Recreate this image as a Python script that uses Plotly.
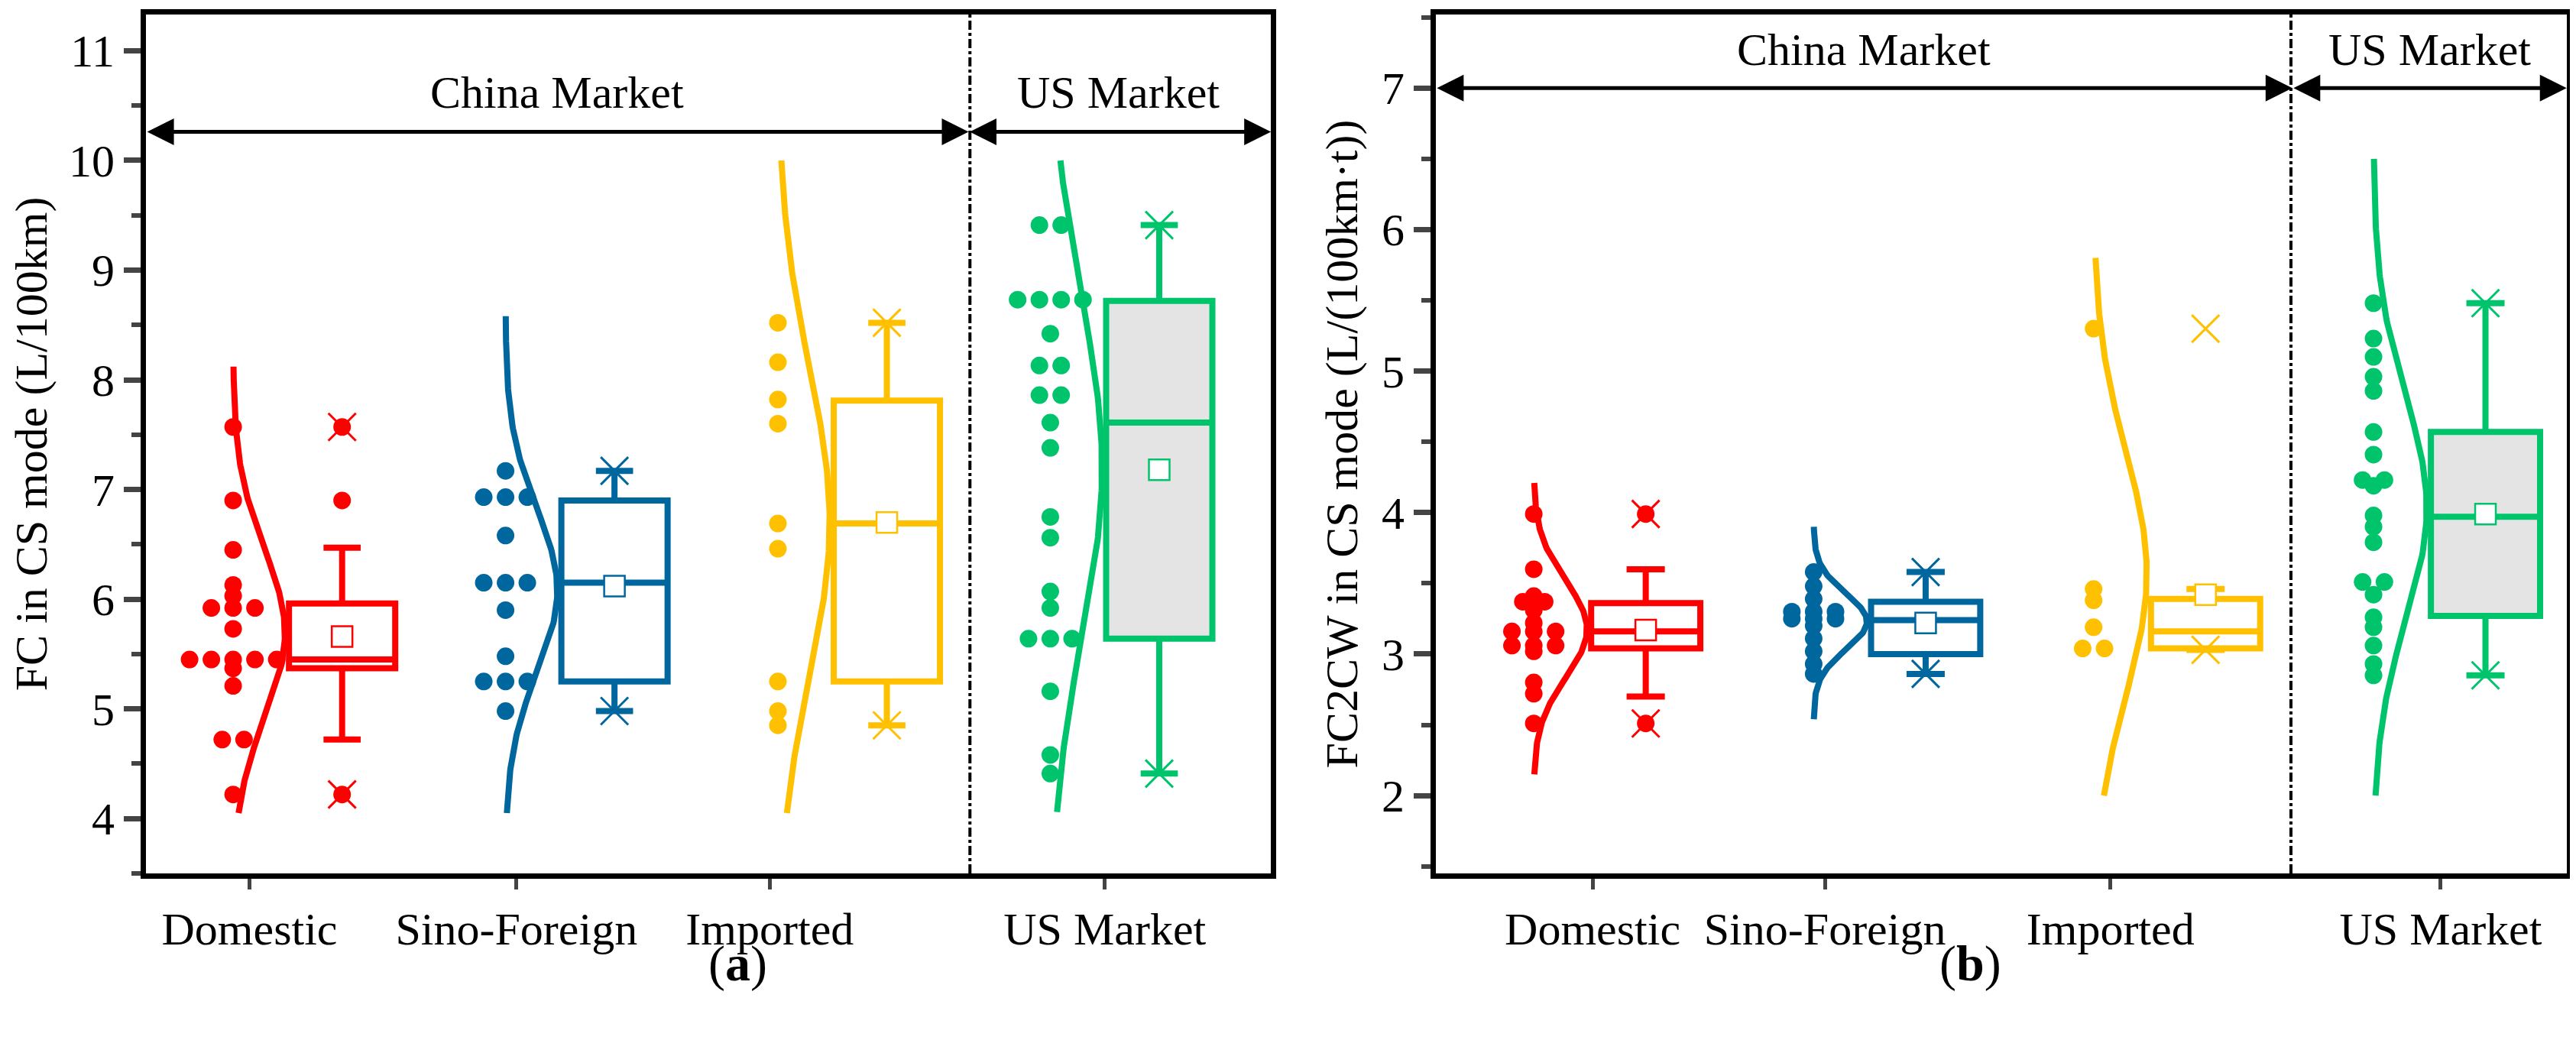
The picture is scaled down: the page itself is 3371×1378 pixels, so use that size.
import numpy as np
import plotly.graph_objects as go

groups = ["Domestic", "Sino-Foreign", "Imported", "US Market"]
colors = ["#ff0000", "#00669e", "#ffc000", "#00c46c"]

# ---- panel (a): FC in CS mode (L/100km)
a_points = [
    [7.57, 6.9, 6.45, 6.13, 6.03, 5.92, 5.92, 5.92, 5.73, 5.45, 5.45, 5.45, 5.45, 5.45, 5.37, 5.21, 4.72, 4.72, 4.22],
    [7.17, 6.93, 6.93, 6.93, 6.58, 6.15, 6.15, 6.15, 5.9, 5.48, 5.25, 5.25, 5.25, 4.98],
    [8.52, 8.16, 7.82, 7.6, 6.69, 6.46, 5.25, 4.98, 4.85],
    [9.41, 9.41, 8.73, 8.73, 8.73, 8.73, 8.42, 8.13, 8.13, 7.86, 7.86, 7.61, 7.38, 6.75, 6.56, 6.07, 5.92, 5.64, 5.64, 5.64, 5.16, 4.58, 4.41],
]
a_q1 = [5.37, 5.25, 5.25, 5.64]
a_med = [5.45, 6.15, 6.69, 7.61]
a_q3 = [5.96, 6.90, 7.81, 8.72]
a_lo = [4.72, 4.98, 4.85, 4.41]
a_hi = [6.47, 7.17, 8.52, 9.41]
a_mean = [5.66, 6.12, 6.70, 7.18]
a_min = [4.22, 4.98, 4.85, 4.41]
a_max = [7.57, 7.17, 8.52, 9.41]
a_outliers = [[7.57, 6.9, 4.22], [], [], []]
a_curve_lo = [4.05, 4.05, 4.05, 4.06]
a_curve_hi = [8.12, 8.58, 10.0, 10.0]

# ---- panel (b): FC2CW in CS mode (L/(100km·t))
b_points = [
    [3.99, 3.60, 3.41, 3.37, 3.37, 3.31, 3.22, 3.16, 3.16, 3.16, 3.06, 3.06, 3.06, 3.02, 2.80, 2.72, 2.51],
    [3.58, 3.48, 3.39, 3.30, 3.30, 3.30, 3.25, 3.25, 3.25, 3.20, 3.11, 3.02, 2.93, 2.86],
    [5.30, 3.46, 3.38, 3.19, 3.04, 3.04],
    [5.48, 5.23, 5.10, 4.96, 4.86, 4.57, 4.41, 4.23, 4.23, 4.19, 3.98, 3.90, 3.79, 3.51, 3.51, 3.42, 3.26, 3.19, 3.06, 2.93, 2.85],
]
b_q1 = [3.04, 3.00, 3.04, 3.27]
b_med = [3.16, 3.24, 3.16, 3.97]
b_q3 = [3.36, 3.37, 3.39, 4.57]
b_lo = [2.70, 2.86, 3.03, 2.85]
b_hi = [3.60, 3.58, 3.46, 5.48]
b_mean = [3.17, 3.22, 3.42, 3.99]
b_min = [2.51, 2.86, 3.03, 2.85]
b_max = [3.99, 3.58, 5.30, 5.48]
b_outliers = [[3.99, 2.51], [], [], []]
b_curve_lo = [2.15, 2.54, 2.0, 2.0]
b_curve_hi = [4.21, 3.90, 5.80, 6.50]

FONT = "Liberation Serif"
FS = 60
fig = go.Figure()

def swarm(vals, spacing):
    vals = np.asarray(vals)
    offs = np.zeros(len(vals))
    for v in np.unique(vals):
        idx = np.where(vals == v)[0]
        n = len(idx)
        offs[idx] = (np.arange(n) - (n - 1) / 2) * spacing
    return offs

def panel(xa, ya, pts, q1, med, q3, lo, hi, mean, mn, mx, outl, clo, chi, box_off, spacing):
    for g in range(4):
        c = colors[g]
        v = np.asarray(pts[g])
        fig.add_trace(go.Scatter(x=g + swarm(v, spacing), y=v, mode="markers", xaxis=xa, yaxis=ya,
                                 marker=dict(color=c, size=23), showlegend=False))
        m, s = v.mean(), v.std(ddof=1)
        yy = np.linspace(clo[g], chi[g], 200)
        pdf = np.exp(-0.5 * ((yy - m) / s) ** 2)
        fig.add_trace(go.Scatter(x=g + 0.19 * pdf, y=yy, mode="lines", xaxis=xa, yaxis=ya,
                                 line=dict(color=c, width=8), showlegend=False))
        bx = g + box_off
        fig.add_trace(go.Box(x=[bx], q1=[q1[g]], median=[med[g]], q3=[q3[g]], lowerfence=[lo[g]],
                             upperfence=[hi[g]], width=0.39, whiskerwidth=0.35, xaxis=xa, yaxis=ya,
                             line=dict(color=c, width=8), boxpoints=False,
                             fillcolor="#e4e4e4" if g == 3 else "rgba(255,255,255,0)", showlegend=False))
        if outl[g]:
            fig.add_trace(go.Scatter(x=[bx] * len(outl[g]), y=outl[g], mode="markers", xaxis=xa, yaxis=ya,
                                     marker=dict(color=c, size=23), showlegend=False))
        fig.add_trace(go.Scatter(x=[bx, bx], y=[mn[g], mx[g]], mode="markers", xaxis=xa, yaxis=ya,
                                 marker=dict(symbol="x-thin", size=36, line=dict(color=c, width=3)),
                                 showlegend=False))
        fig.add_trace(go.Scatter(x=[bx], y=[mean[g]], mode="markers", xaxis=xa, yaxis=ya,
                                 marker=dict(symbol="square", size=27, color="white", line=dict(color=c, width=2.5)),
                                 showlegend=False))

panel("x", "y", a_points, a_q1, a_med, a_q3, a_lo, a_hi, a_mean, a_min, a_max, a_outliers,
      a_curve_lo, a_curve_hi, 0.40, 0.08)
panel("x2", "y2", b_points, b_q1, b_med, b_q3, b_lo, b_hi, b_mean, b_min, b_max, b_outliers,
      b_curve_lo, b_curve_hi, 0.40, 0.078)

axis_common = dict(showline=True, linecolor="black", linewidth=7, mirror=True, showgrid=False,
                   zeroline=False, tickfont=dict(family=FONT, size=FS, color="black"))
fig.update_layout(
    width=3371, height=1378, plot_bgcolor="white", paper_bgcolor="white",
    margin=dict(l=0, r=0, t=11, b=243),
    xaxis=dict(domain=[0.0543, 0.491], range=[-0.32, 3.81], tickvals=[0.06, 1.04, 1.97, 3.2],
               ticktext=groups, ticks="outside", ticklen=14, tickwidth=5, **axis_common),
    yaxis=dict(range=[3.5, 11.33], tickvals=list(range(4, 12)), ticks="outside", ticklen=22, tickwidth=7,
               minor=dict(dtick=0.5, ticks="outside", ticklen=12, tickwidth=6),
               title=dict(text="FC in CS mode (L/100km)", font=dict(family=FONT, size=FS, color="black"), standoff=14),
               **axis_common),
    xaxis2=dict(domain=[0.555, 0.994], range=[-0.35, 3.69], tickvals=[0.21, 1.04, 2.06, 3.24],
                ticktext=groups, ticks="outside", ticklen=14, tickwidth=5, anchor="y2", **axis_common),
    yaxis2=dict(range=[1.45, 7.52], tickvals=list(range(2, 8)), ticks="outside", ticklen=22, tickwidth=7,
                minor=dict(dtick=0.5, ticks="outside", ticklen=12, tickwidth=6), anchor="x2",
                title=dict(text="FC2CW in CS mode (L/(100km·t))", font=dict(family=FONT, size=FS, color="black"), standoff=14),
                **axis_common),
)

def arrow(xa, ya, x0, x1, y):
    fig.add_annotation(x=x1, y=y, ax=x0, ay=y, xref=xa, yref=ya, axref=xa, ayref=ya, text="",
                       showarrow=True, arrowhead=2, arrowside="end+start", arrowsize=1.4,
                       arrowwidth=5, arrowcolor="black")

arrow("x", "y", -0.32, 2.70, 10.26)
arrow("x", "y", 2.70, 3.81, 10.26)
arrow("x2", "y2", -0.35, 2.71, 7.0)
arrow("x2", "y2", 2.71, 3.69, 7.0)
for xa, ya, xc, xu, yt in [("x", "y", 1.19, 3.25, 10.62), ("x2", "y2", 1.18, 3.2, 7.27)]:
    fig.add_annotation(x=xc, y=yt, xref=xa, yref=ya, text="China Market", showarrow=False,
                       font=dict(family=FONT, size=FS, color="black"))
    fig.add_annotation(x=xu, y=yt, xref=xa, yref=ya, text="US Market", showarrow=False,
                       font=dict(family=FONT, size=FS, color="black"))
for xa in ["x", "x2"]:
    fig.add_shape(type="line", xref=xa, yref="paper", x0=2.705, x1=2.705, y0=0, y1=1,
                  line=dict(color="black", width=4, dash="dashdot"))
fig.add_annotation(x=0.272, y=-0.14, xref="paper", yref="paper", text="(<b>a</b>)", showarrow=False,
                   font=dict(family=FONT, size=66, color="black"))
fig.add_annotation(x=0.775, y=-0.14, xref="paper", yref="paper", text="(<b>b</b>)", showarrow=False,
                   font=dict(family=FONT, size=66, color="black"))

fig.write_html("out.html")
